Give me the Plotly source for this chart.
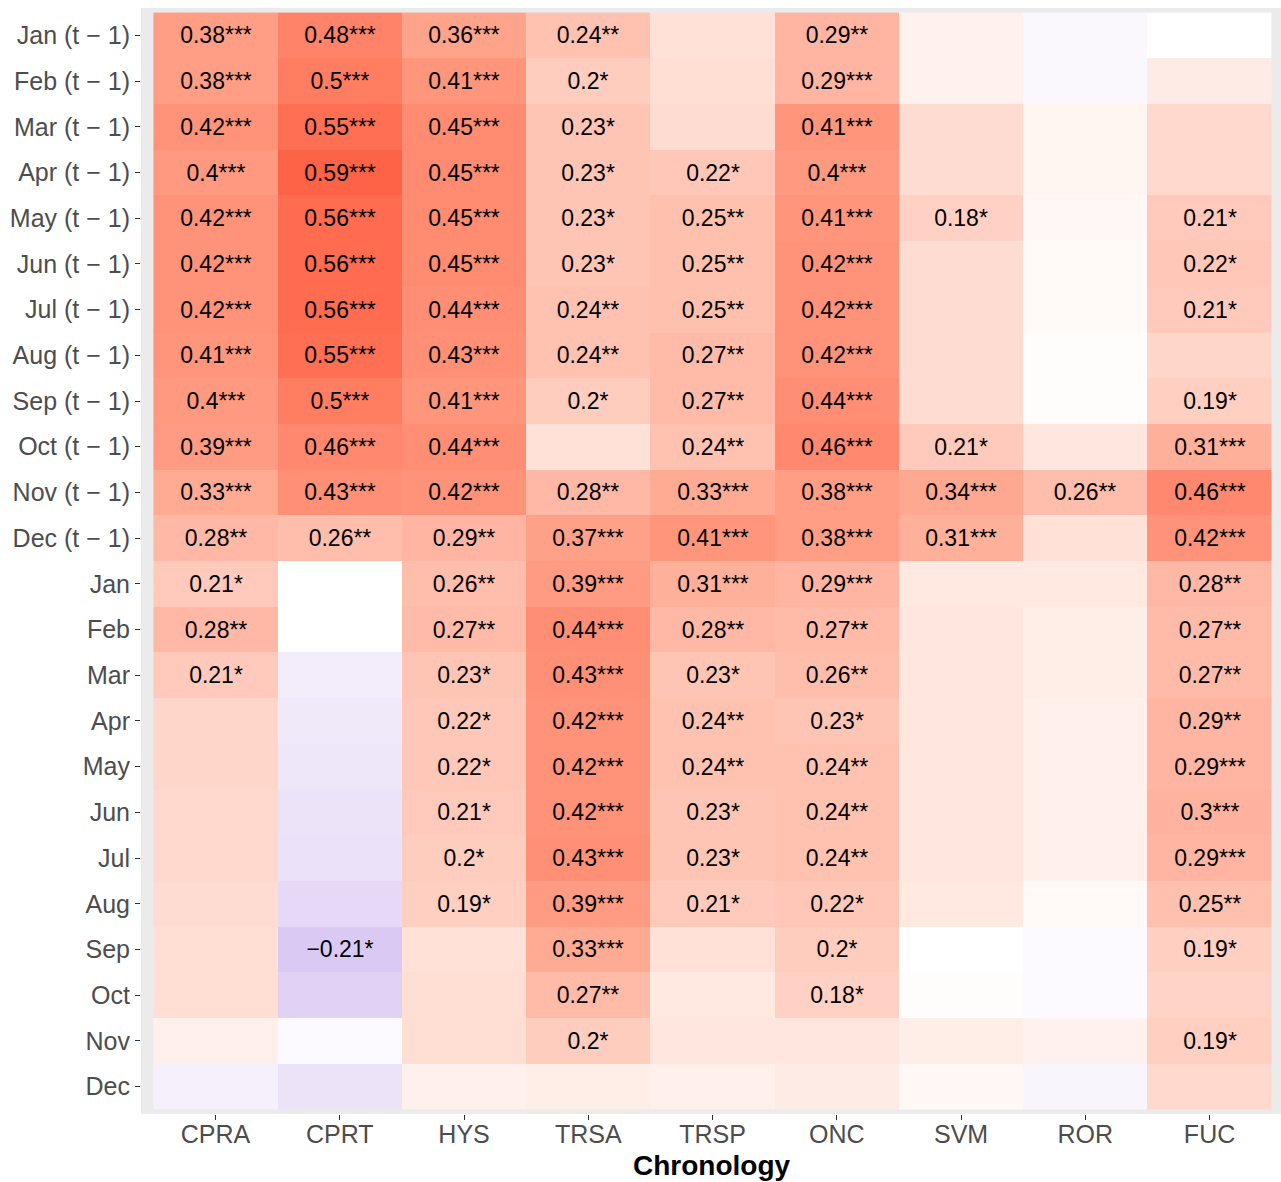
import plotly.graph_objects as go

# ---------------- data ----------------
months = ["Jan", "Feb", "Mar", "Apr", "May", "Jun", "Jul", "Aug", "Sep", "Oct", "Nov", "Dec"]
row_labels = [f"{m} (t \u2212 1)" for m in months] + months
chronologies = ["CPRA", "CPRT", "HYS", "TRSA", "TRSP", "ONC", "SVM", "ROR", "FUC"]

CPRA = [0.38, 0.38, 0.42, 0.40, 0.42, 0.42, 0.42, 0.41, 0.40, 0.39, 0.33, 0.28,
        0.21, 0.28, 0.21, 0.16, 0.16, 0.15, 0.15, 0.14, 0.13, 0.13, 0.06, -0.06]
CPRA_sig = ["***", "***", "***", "***", "***", "***", "***", "***", "***", "***", "***", "**",
            "*", "**", "*", "", "", "", "", "", "", "", "", ""]

CPRT = [0.48, 0.50, 0.55, 0.59, 0.56, 0.56, 0.56, 0.55, 0.50, 0.46, 0.43, 0.26,
        0.00, 0.00, -0.07, -0.09, -0.10, -0.11, -0.12, -0.15, -0.21, -0.18, -0.02, -0.11]
CPRT_sig = ["***", "***", "***", "***", "***", "***", "***", "***", "***", "***", "***", "**",
            "", "", "", "", "", "", "", "", "*", "", "", ""]

HYS = [0.36, 0.41, 0.45, 0.45, 0.45, 0.45, 0.44, 0.43, 0.41, 0.44, 0.42, 0.29,
       0.26, 0.27, 0.23, 0.22, 0.22, 0.21, 0.20, 0.19, 0.12, 0.13, 0.13, 0.06]
HYS_sig = ["***", "***", "***", "***", "***", "***", "***", "***", "***", "***", "***", "**",
           "**", "**", "*", "*", "*", "*", "*", "*", "", "", "", ""]

TRSA = [0.24, 0.20, 0.23, 0.23, 0.23, 0.23, 0.24, 0.24, 0.20, 0.12, 0.28, 0.37,
        0.39, 0.44, 0.43, 0.42, 0.42, 0.42, 0.43, 0.39, 0.33, 0.27, 0.20, 0.07]
TRSA_sig = ["**", "*", "*", "*", "*", "*", "**", "**", "*", "", "**", "***",
            "***", "***", "***", "***", "***", "***", "***", "***", "***", "**", "*", ""]

TRSP = [0.12, 0.13, 0.14, 0.22, 0.25, 0.25, 0.25, 0.27, 0.27, 0.24, 0.33, 0.41,
        0.31, 0.28, 0.23, 0.24, 0.24, 0.23, 0.23, 0.21, 0.12, 0.09, 0.10, 0.06]
TRSP_sig = ["", "", "", "*", "**", "**", "**", "**", "**", "**", "***", "***",
            "***", "**", "*", "**", "**", "*", "*", "*", "", "", "", ""]

ONC = [0.29, 0.29, 0.41, 0.40, 0.41, 0.42, 0.42, 0.42, 0.44, 0.46, 0.38, 0.38,
       0.29, 0.27, 0.26, 0.23, 0.24, 0.24, 0.24, 0.22, 0.20, 0.18, 0.10, 0.08]
ONC_sig = ["**", "***", "***", "***", "***", "***", "***", "***", "***", "***", "***", "***",
           "***", "**", "**", "*", "**", "**", "**", "*", "*", "*", "", ""]

SVM = [0.05, 0.05, 0.14, 0.14, 0.18, 0.14, 0.14, 0.14, 0.14, 0.21, 0.34, 0.31,
       0.09, 0.10, 0.10, 0.10, 0.10, 0.10, 0.10, 0.09, 0.00, 0.01, 0.07, 0.03]
SVM_sig = ["", "", "", "", "*", "", "", "", "", "*", "***", "***",
           "", "", "", "", "", "", "", "", "", "", "", ""]

ROR = [-0.03, -0.03, 0.04, 0.04, 0.03, 0.02, 0.02, 0.01, 0.01, 0.10, 0.26, 0.12,
       0.09, 0.07, 0.07, 0.06, 0.06, 0.06, 0.06, 0.02, -0.02, -0.02, 0.05, -0.04]
ROR_sig = ["", "", "", "", "", "", "", "", "", "", "**", "",
           "", "", "", "", "", "", "", "", "", "", "", ""]

FUC = [0.00, 0.08, 0.15, 0.15, 0.21, 0.22, 0.21, 0.16, 0.19, 0.31, 0.46, 0.42,
       0.28, 0.27, 0.27, 0.29, 0.29, 0.30, 0.29, 0.25, 0.19, 0.17, 0.19, 0.15]
FUC_sig = ["", "", "", "", "*", "*", "*", "", "*", "***", "***", "***",
           "**", "**", "**", "**", "***", "***", "***", "**", "*", "", "*", ""]

values = [CPRA, CPRT, HYS, TRSA, TRSP, ONC, SVM, ROR, FUC]
signif = [CPRA_sig, CPRT_sig, HYS_sig, TRSA_sig, TRSP_sig, ONC_sig, SVM_sig, ROR_sig, FUC_sig]

# ---------------- colour scale (gradient2, Lab interpolation) ----------------
def _lin(c):
    c = c / 255.0
    return c / 12.92 if c <= 0.04045 else ((c + 0.055) / 1.055) ** 2.4

def _delin(c):
    c = 12.92 * c if c <= 0.0031308 else 1.055 * c ** (1 / 2.4) - 0.055
    return max(0, min(255, round(c * 255)))

def hex2lab(h):
    r, g, b = (_lin(int(h[i:i + 2], 16)) for i in (1, 3, 5))
    X = (0.4124 * r + 0.3576 * g + 0.1805 * b) / 0.95047
    Y = (0.2126 * r + 0.7152 * g + 0.0722 * b)
    Z = (0.0193 * r + 0.1192 * g + 0.9505 * b) / 1.08883
    f = lambda t: t ** (1 / 3) if t > 0.008856 else 7.787 * t + 16 / 116
    fx, fy, fz = f(X), f(Y), f(Z)
    return 116 * fy - 16, 500 * (fx - fy), 200 * (fy - fz)

def lab2rgb(L, a, b):
    fy = (L + 16) / 116
    fx, fz = fy + a / 500, fy - b / 200
    finv = lambda t: t ** 3 if t ** 3 > 0.008856 else (t - 16 / 116) / 7.787
    X, Y, Z = finv(fx) * 0.95047, finv(fy), finv(fz) * 1.08883
    r = 3.2406 * X - 1.5372 * Y - 0.4986 * Z
    g = -0.9689 * X + 1.8758 * Y + 0.0415 * Z
    bb = 0.0557 * X - 0.2040 * Y + 1.0570 * Z
    return f"rgb({_delin(r)},{_delin(g)},{_delin(bb)})"

low, mid, high = hex2lab("#9370DB"), hex2lab("#FFFFFF"), hex2lab("#FF6347")
n = 20
colorscale = []
for i in range(n + 1):
    t = i / n
    c = [low[k] + (mid[k] - low[k]) * t for k in range(3)]
    colorscale.append([0.5 * t, lab2rgb(*c)])
for i in range(1, n + 1):
    t = i / n
    c = [mid[k] + (high[k] - mid[k]) * t for k in range(3)]
    colorscale.append([0.5 + 0.5 * t, lab2rgb(*c)])

lim = max(abs(v) for col in values for v in col)

# matrix: rows = months, cols = chronologies
z = [[values[j][i] for j in range(len(chronologies))] for i in range(len(row_labels))]

def fmt(v):
    s = f"{round(v, 2):g}"
    return s.replace("-", "\u2212")

text = [[(fmt(values[j][i]) + signif[j][i]) if signif[j][i] else ""
         for j in range(len(chronologies))] for i in range(len(row_labels))]

fig = go.Figure(go.Heatmap(
    x=chronologies, y=row_labels, z=z,
    text=text, texttemplate="%{text}",
    textfont=dict(family="Liberation Sans", size=23, color="black"),
    colorscale=colorscale, zmin=-lim, zmax=lim, showscale=False,
    hoverinfo="skip",
))

fig.update_layout(
    width=1281, height=1182,
    margin=dict(l=141, r=0, t=8, b=68),
    paper_bgcolor="white", plot_bgcolor="#EBEBEB",
    font=dict(family="Liberation Sans"),
    xaxis=dict(
        range=[-0.6, 8.575], showgrid=False, zeroline=False,
        ticks="outside", ticklen=5, tickcolor="#333333", tickwidth=1.2,
        tickfont=dict(size=25, color="#4D4D4D"), ticklabelstandoff=-7,
    ),
    yaxis=dict(
        range=[23.6, -0.6], showgrid=False, zeroline=False,
        ticks="outside", ticklen=5, tickcolor="#333333", tickwidth=1.2,
        tickfont=dict(size=25, color="#4D4D4D"),
    ),
    annotations=[dict(
        text="Chronology", xref="paper", yref="paper",
        x=0.5005, y=-51 / 1106, xanchor="center", yanchor="middle",
        showarrow=False, font=dict(size=28, color="black", weight="bold"),
    )],
)

fig.write_html("out.html")
